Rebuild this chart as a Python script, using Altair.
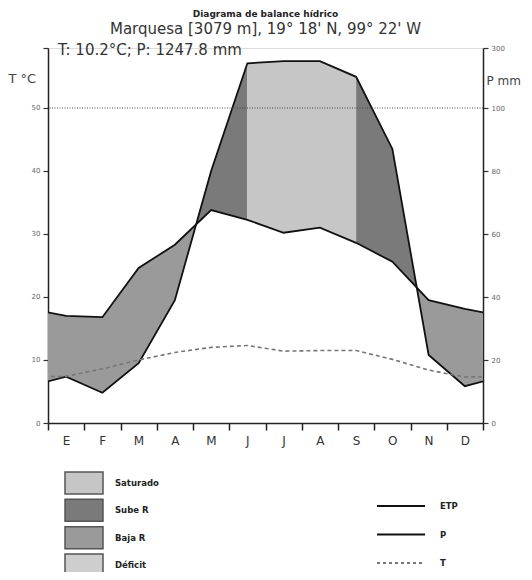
import json
import altair as alt
import pandas as pd

# ---------------- data ----------------
months = ['E', 'F', 'M', 'A', 'M', 'J', 'J', 'A', 'S', 'O', 'N', 'D']
precip = [14.7, 9.6, 19.0, 39.0, 80.0, 249.0, 256.0, 256.0, 204.0, 87.0, 21.6, 11.7]   # P mm
etp = [34.0, 33.6, 49.2, 56.6, 67.6, 64.5, 60.4, 62.0, 57.2, 51.2, 39.0, 36.2]          # ETP mm
temp = [7.4, 8.6, 10.0, 11.2, 12.0, 12.3, 11.4, 11.5, 11.5, 10.1, 8.4, 7.3]              # T °C
saturated_idx = (5, 8)          # soil saturated from June centre to September centre

zone_names = ['Saturado', 'Sube R', 'Baja R', 'Déficit']
zone_colors = ['#c6c6c6', '#7a7a7a', '#9a9a9a', '#cecece']
line_names = ['ETP', 'P', 'T']
line_colors = ['#111111', '#111111', '#777777']
line_dashes = [[1, 0], [1, 0], [3, 3]]

title_text = 'Diagrama de balance hídrico'
subtitle_text = "Marquesa [3079 m], 19° 18' N, 99° 22' W"
summary_text = 'T: 10.2°C; P: 1247.8 mm'
t_ticks = [0, 10, 20, 30, 40, 50]
p_ticks = [0, 20, 40, 60, 80, 100, 300]
ref_line = [50]

FONT = 'DejaVu Sans'
W, H = 435, 375

# ---------------- tables ----------------
xs = [-0.5] + [i + 0.5 for i in range(12)] + [12.5]        # periodic wrap, clipped by the plot
Ps = [precip[-1]] + precip + [precip[0]]
Es = [etp[-1]] + etp + [etp[0]]
Ts = [temp[-1]] + temp + [temp[0]]
lines_df = pd.DataFrame({'x': xs, 'P': Ps, 'E': Es, 'T': Ts})

sat_lo, sat_hi = saturated_idx[0] + 0.5, saturated_idx[1] + 0.5


def zone_of(xm, p, e):
    if p < e:
        return 'Baja R'
    if sat_lo <= xm <= sat_hi:
        return 'Saturado'
    return 'Sube R'


pieces = []
for k in range(len(xs) - 1):
    pts = [(xs[k], Ps[k], Es[k])]
    d0 = Ps[k] - Es[k]
    d1 = Ps[k + 1] - Es[k + 1]
    if d0 * d1 < 0:
        t = d0 / (d0 - d1)
        xc = xs[k] + t * (xs[k + 1] - xs[k])
        vc = Ps[k] + t * (Ps[k + 1] - Ps[k])
        pts.append((xc, vc, vc))
    pts.append((xs[k + 1], Ps[k + 1], Es[k + 1]))
    for a, b in zip(pts[:-1], pts[1:]):
        z = zone_of((a[0] + b[0]) / 2, (a[1] + b[1]) / 2, (a[2] + b[2]) / 2)
        if pieces and pieces[-1][0] == z:
            pieces[-1][1].append(b)
        else:
            pieces.append([z, [a, b]])

rows = []
for sid, (z, pts) in enumerate(pieces):
    for (x, p, e) in pts:
        rows.append({'seg': sid, 'zone': z, 'x': x, 'P': p, 'E': e})
zones_df = pd.DataFrame(rows)

# ---------------- encodings ----------------
label_js = json.dumps(months + [''])
xenc = alt.X('x:Q',
             scale=alt.Scale(domain=[0, 12], nice=False, zero=False),
             axis=alt.Axis(values=list(range(13)), labelExpr=f"{label_js}[datum.value]",
                           labelOffset=18, labelFlush=False, labelOverlap=False,
                           tickSize=7, tickWidth=1.5, tickColor='#222', domainColor='#222',
                           domainWidth=1.5, grid=False, title=None, labelFontSize=12,
                           labelColor='#333', labelPadding=5, labelFont=FONT))

pscale = alt.Scale(domain=[0, 100, 300], range=[H, 60, 0], nice=False, zero=False)
paxis = alt.Axis(orient='right', values=p_ticks, title='P mm', titleAngle=0, titleX=3, titleY=32,
                 titleAlign='left', titleBaseline='middle', titleFontSize=12,
                 titleFontWeight='normal', titleColor='#444', titleFont=FONT,
                 labelFontSize=7, labelColor='#666', labelFont=FONT, labelPadding=3,
                 tickSize=5, tickWidth=1.2, tickColor='#333', domainColor='#222',
                 domainWidth=1.5, grid=False)
tscale = alt.Scale(domain=[0, 59.52], nice=False, zero=True)
taxis = alt.Axis(orient='left', values=t_ticks + [59.52],
                 labelExpr="datum.value > 55 ? '' : datum.label",
                 title='T °C', titleAngle=0, titleX=-40, titleY=30, titleAlign='left',
                 titleBaseline='middle', titleFontSize=13, titleFontWeight='normal',
                 titleColor='#444', titleFont=FONT,
                 labelFontSize=7, labelColor='#666', labelFont=FONT, labelPadding=3,
                 tickSize=5, tickWidth=1.2, tickColor='#333', domainColor='#222',
                 domainWidth=1.5, grid=False)

areas = alt.Chart(zones_df).mark_area(clip=True, opacity=1, strokeWidth=0).encode(
    x=xenc,
    y=alt.Y('P:Q', scale=pscale, axis=paxis, stack=None),
    y2='E:Q',
    color=alt.Color('zone:N', scale=alt.Scale(domain=zone_names, range=zone_colors), legend=None),
    detail='seg:N',
)
p_line = alt.Chart(lines_df).mark_line(clip=True, color='#111', strokeWidth=1.8).encode(
    x=xenc, y=alt.Y('P:Q', scale=pscale, axis=paxis))
e_line = alt.Chart(lines_df).mark_line(clip=True, color='#111', strokeWidth=1.8).encode(
    x=xenc, y=alt.Y('E:Q', scale=pscale, axis=paxis))
p_group = alt.layer(areas, p_line, e_line)

t_line = alt.Chart(lines_df).mark_line(clip=True, color='#777', strokeDash=[4, 3],
                                       strokeWidth=1.6).encode(
    x=xenc, y=alt.Y('T:Q', scale=tscale, axis=taxis))
rule50 = alt.Chart(pd.DataFrame({'v': ref_line})).mark_rule(
    color='#444', strokeWidth=1.2, strokeDash=[1, 1.5]).encode(
    y=alt.Y('v:Q', scale=tscale, axis=taxis))
summary = alt.Chart(pd.DataFrame({'s': [summary_text]})).mark_text(
    align='left', baseline='middle', fontSize=15, font=FONT, color='#333').encode(
    x=alt.value(10), y=alt.value(2), text='s:N')
t_group = alt.layer(t_line, rule50, summary)

zscale_y = alt.Scale(domain=zone_names, range=[424, 528], paddingInner=0.2, paddingOuter=0)
leg_df = pd.DataFrame({'zone': zone_names})
leg_box = alt.Chart(leg_df).mark_rect(stroke='#555', strokeWidth=1.5).encode(
    x=alt.value(17), x2=alt.value(55),
    y=alt.Y('zone:N', scale=zscale_y, axis=None, sort=zone_names),
    color=alt.Color('zone:N', scale=alt.Scale(domain=zone_names, range=zone_colors), legend=None),
)
leg_box_txt = alt.Chart(leg_df).mark_text(align='left', baseline='middle', fontSize=8.5,
                                          fontWeight='bold', font=FONT, color='#222').encode(
    x=alt.value(67),
    y=alt.Y('zone:N', scale=zscale_y, axis=None, sort=zone_names),
    text='zone:N')
leg_boxes = alt.layer(leg_box, leg_box_txt)

lscale_y = alt.Scale(type='point', domain=line_names, range=[458, 515], padding=0)
lleg_df = pd.DataFrame({'name': line_names})
leg_rule = alt.Chart(lleg_df).mark_rule(strokeWidth=1.8).encode(
    x=alt.value(329), x2=alt.value(377),
    y=alt.Y('name:N', scale=lscale_y, axis=None, sort=line_names),
    color=alt.Color('name:N', scale=alt.Scale(domain=line_names, range=line_colors), legend=None),
    strokeDash=alt.StrokeDash('name:N', scale=alt.Scale(domain=line_names, range=line_dashes),
                              legend=None),
)
leg_rule_txt = alt.Chart(lleg_df).mark_text(align='left', baseline='middle', fontSize=8.5,
                                            fontWeight='bold', font=FONT, color='#222').encode(
    x=alt.value(392),
    y=alt.Y('name:N', scale=lscale_y, axis=None, sort=line_names),
    text='name:N')
leg_lines = alt.layer(leg_rule, leg_rule_txt)

chart = alt.layer(p_group, t_group, leg_boxes, leg_lines).resolve_scale(
    y='independent', color='independent', strokeDash='independent'
).properties(
    width=W, height=H,
    title=alt.TitleParams(text=title_text, subtitle=subtitle_text, anchor='middle',
                          fontSize=9, fontWeight='bold', font=FONT, color='#222',
                          subtitleFontSize=15, subtitleFont=FONT, subtitleColor='#333',
                          subtitlePadding=3, offset=6),
    padding={'left': 40, 'top': 40, 'right': 41, 'bottom': 149},
    autosize=alt.AutoSizeParams(type='none'),
).configure_view(stroke=None).configure(font=FONT)

chart.save('out.html', embed_options={'renderer': 'svg', 'actions': False})
